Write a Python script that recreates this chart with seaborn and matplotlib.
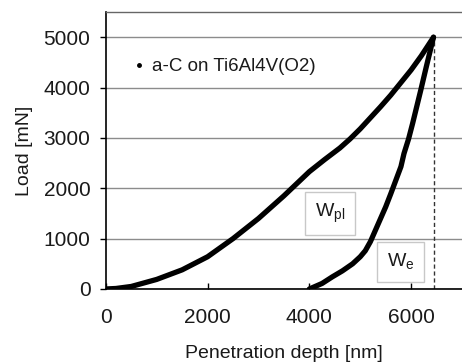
import matplotlib
matplotlib.use("Agg")
import matplotlib.pyplot as plt
import seaborn as sns
import pandas as pd
from matplotlib.lines import Line2D

# ---- data ----
load_depth = [0, 200, 500, 1000, 1500, 2000, 2500, 3000, 3500, 4000, 4300, 4600, 4800, 5000, 5200, 5400, 5600, 5800, 6000, 6200, 6440]
load_force = [0, 10, 50, 190, 380, 640, 1000, 1400, 1850, 2330, 2570, 2800, 2980, 3180, 3400, 3620, 3850, 4100, 4350, 4630, 5000]
unload_depth = [4000, 4250, 4450, 4650, 4850, 5000, 5100, 5200, 5300, 5400, 5500, 5600, 5700, 5800, 5860, 5950, 6030, 6110, 6190, 6300, 6440]
unload_force = [0, 110, 240, 360, 500, 640, 760, 940, 1170, 1400, 1630, 1890, 2160, 2430, 2690, 2980, 3290, 3620, 3950, 4420, 5000]
max_depth = 6440
max_load = 5000
series_label = "a-C on Ti6Al4V(O2)"
x_ticks = [0, 2000, 4000, 6000]
y_ticks = [0, 1000, 2000, 3000, 4000, 5000]
annotations = [("W$_{\\mathrm{pl}}$", 4400, 1500), ("W$_{\\mathrm{e}}$", 5790, 540)]

sns.set_theme(style="white")
plt.rcParams["font.family"] = ["Liberation Sans", "DejaVu Sans"]
plt.rcParams["mathtext.fontset"] = "custom"
plt.rcParams["mathtext.rm"] = "Liberation Sans"

fig = plt.figure(figsize=(4.62, 3.62), dpi=100)
ax = fig.add_axes([0.229, 0.2017, 0.771, 0.765])

df_load = pd.DataFrame({"depth": load_depth, "force": load_force})
df_unload = pd.DataFrame({"depth": unload_depth, "force": unload_force})

sns.lineplot(data=df_load, x="depth", y="force", ax=ax, color="black", lw=3.8,
             sort=False, estimator=None, solid_capstyle="round", solid_joinstyle="round")
sns.lineplot(data=df_unload, x="depth", y="force", ax=ax, color="black", lw=3.8,
             sort=False, estimator=None, solid_capstyle="round", solid_joinstyle="round")

ax.vlines(max_depth, 0, max_load, colors="#333333", linestyles=(0, (3, 2)), lw=1.0, zorder=1)

ax.set_xlim(0, 7000)
ax.set_ylim(0, 5500)
ax.set_xticks(x_ticks)
ax.set_yticks(y_ticks)
ax.yaxis.grid(True, color="#8c8c8c", lw=1.0)
ax.set_axisbelow(True)

for s in ["left", "bottom"]:
    ax.spines[s].set_color("black")
    ax.spines[s].set_linewidth(1.2)
ax.spines["right"].set_visible(False)
ax.spines["top"].set_color("#666666")
ax.spines["top"].set_linewidth(1.0)

ax.tick_params(axis="y", direction="out", length=4, width=1, color="black", labelsize=15, pad=7)
ax.tick_params(axis="x", direction="in", length=4, width=1, color="black", labelsize=15, pad=14)
ax.xaxis.set_tick_params(top=False, bottom=True)
ax.yaxis.set_tick_params(left=True, right=False)
for lab in ax.get_xticklabels() + ax.get_yticklabels():
    lab.set_color("#1a1a1a")

ax.set_xlabel("Penetration depth [nm]", fontsize=14, labelpad=13, color="#1a1a1a")
ax.set_ylabel("Load [mN]", fontsize=14, labelpad=8, color="#1a1a1a")

handle = Line2D([], [], color="black", marker=".", markersize=5, linestyle="none")
leg = ax.legend([handle], [series_label], loc="upper left", bbox_to_anchor=(0.06, 0.86),
                frameon=False, fontsize=13.5, handlelength=0.5, handletextpad=0.4,
                borderaxespad=0)
for t in leg.get_texts():
    t.set_color("#1a1a1a")

for txt, x, y in annotations:
    ax.text(x, y, txt, fontsize=14, ha="center", va="center", color="#1a1a1a",
            bbox=dict(boxstyle="square,pad=0.5", fc="white", ec="#c8c8c8", lw=1.0))

fig.savefig("out.png", dpi=100)
